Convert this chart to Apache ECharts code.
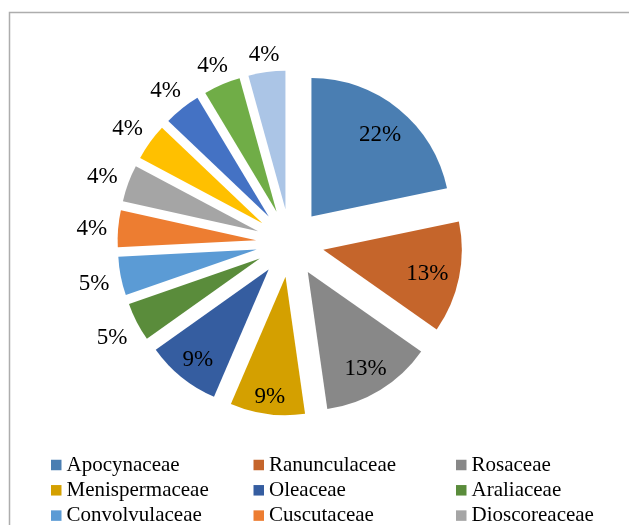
<!DOCTYPE html>
<html>
<head>
<meta charset="utf-8">
<script src="https://cdn.jsdelivr.net/npm/echarts@6/dist/echarts.min.js"></script>
<style>
  html, body { margin: 0; padding: 0; background: #fff; }
  #chart { width: 629px; height: 525px; }
</style>
</head>
<body>
<div id="chart"></div>
<script>
// Plant families and their share (%) of the species list
const families = ['Apocynaceae', 'Ranunculaceae', 'Rosaceae', 'Menispermaceae', 'Oleaceae',
  'Araliaceae', 'Convolvulaceae', 'Cuscutaceae', 'Dioscoreaceae', '', '', '', ''];
const shares = [21.7, 13, 13, 8.7, 8.7, 4.5, 4.5, 4.3, 4.3, 4.3, 4.3, 4.3, 4.3];
const sliceColors = ['#4A7EB2', '#C5652B', '#888888', '#D4A000', '#355DA0', '#5A8C3B',
  '#5B9BD5', '#ED7D31', '#A5A5A5', '#FFC000', '#4472C4', '#70AD47', '#ABC5E6'];
// Legend columns (row-major order across three columns)
const legendCols = [
  ['Apocynaceae', 'Menispermaceae', 'Convolvulaceae'],
  ['Ranunculaceae', 'Oleaceae', 'Cuscutaceae'],
  ['Rosaceae', 'Araliaceae', 'Dioscoreaceae']
];

const serif = '"Liberation Serif", "Times New Roman", serif';
const center = [290, 243];
const R = 138.5;
const explode = 34;
const labelSize = 23;
const total = shares.reduce((a, b) => a + b, 0);
const pctLabel = p => Math.round(p.value / total * 100) + '%';

// Mid angle of each slice, clockwise from 12 o'clock (radians)
const midAngles = [];
shares.reduce((acc, v) => { midAngles.push((acc + v / 2) / total * Math.PI * 2); return acc + v; }, 0);

const chart = echarts.init(document.getElementById('chart'), null, { renderer: 'canvas' });

function pieBase() {
  return {
    type: 'pie',
    center: center,
    startAngle: 90,
    clockwise: true,
    selectedMode: 'multiple',
    selectedOffset: explode,
    animation: false,
    emphasis: { disabled: true },
    labelLine: { show: false }
  };
}

// Exploded slices
const mainPie = Object.assign(pieBase(), {
  radius: [0, R],
  label: { show: false },
  itemStyle: { borderWidth: 0 },
  data: families.map((n, i) => ({
    name: n, value: shares[i], selected: true,
    itemStyle: { color: sliceColors[i] }
  }))
});

// Transparent rings that carry the percentage labels. Each label box is
// pushed along its slice's bisector so that its edge keeps a fixed distance
// from the rim (inside for the large slices, outside for the small ones).
function labelRing(r0, r1, outside, pick) {
  const mid = (r0 + r1) / 2;
  return Object.assign(pieBase(), {
    radius: [r0, r1],
    silent: true,
    itemStyle: { color: 'rgba(0,0,0,0)', borderWidth: 0 },
    label: {
      show: true, position: 'inside', rotate: 0,
      formatter: pctLabel, color: '#000',
      fontFamily: serif, fontSize: labelSize
    },
    labelLayout: function (p) {
      const a = midAngles[p.dataIndex];
      const s = Math.sin(a), c = Math.cos(a);
      const halfW = p.labelRect.width / 2, halfH = labelSize * 0.35;
      const reach = halfW * Math.abs(s) + halfH * Math.abs(c);
      const target = outside ? R + 7.5 + reach : R - 13 - reach;
      const k = target - mid;
      return { dx: k * s, dy: -k * c + 3 };
    },
    data: families.map((n, i) => ({
      name: n, value: shares[i], selected: true,
      label: { show: pick(shares[i]) }
    }))
  });
}

const legends = legendCols.map((col, k) => ({
  orient: 'vertical',
  left: [51, 253.5, 456][k],
  top: 454.5,
  height: 200,
  padding: 0,
  itemGap: 4.3,
  itemWidth: 10.5,
  itemHeight: 10.5,
  icon: 'rect',
  selectedMode: false,
  data: col,
  textStyle: { fontFamily: serif, fontSize: 21, color: '#000', lineHeight: 21 }
}));

chart.setOption({
  backgroundColor: '#fff',
  animation: false,
  legend: legends,
  graphic: [{
    type: 'rect',
    shape: { x: 9.5, y: 12.5, width: 900, height: 900 },
    style: { fill: 'none', stroke: '#ADADAD', lineWidth: 1.5 },
    silent: true,
    z: -10
  }],
  series: [
    mainPie,
    labelRing(73, R, false, s => s >= 8),
    labelRing(R, 173, true, s => s < 8)
  ]
});
</script>
</body>
</html>
